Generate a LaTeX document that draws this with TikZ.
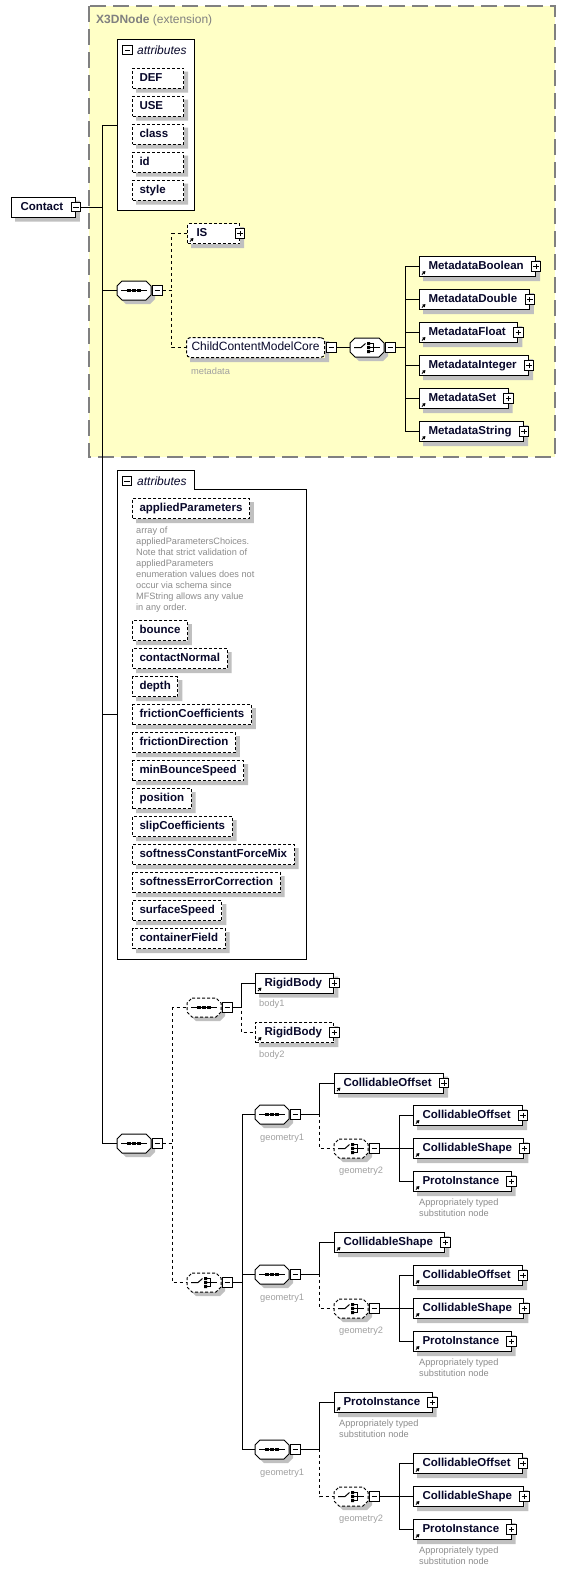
\documentclass[tikz,border=0pt]{standalone}
\usepackage{fontspec}
\setmainfont{Liberation Sans}
\usetikzlibrary{positioning,arrows.meta,calc}
\definecolor{ext100} {HTML}{FFFFC6}
\definecolor{ink900} {HTML}{08082A}
\definecolor{grey600}{HTML}{808080}
\definecolor{grey500}{HTML}{8C8C8C}
\definecolor{grey400}{HTML}{A0A0A0}
\definecolor{grey250}{HTML}{C0C0C0}
% octagon of a compositor, with its shadow
\newcommand\compshape[2]{%
  \fill[grey250] ($(#1.north east)+(4,9)$) -- ($(#1.south east)+(4,-1)$)
    -- ($(#1.south east)+(-1,4)$) -- ($(#1.south west)+(9,4)$)
    -- ($(#1.south west)+(5,0)$) -- ($(#1.south east)+(-5,0)$)
    -- ($(#1.south east)+(0,-5)$) -- ($(#1.north east)+(0,5)$) -- cycle;
  \draw[line width=1pt, fill=white, #2] ($(#1.north west)+(5,0)$)
    -- ($(#1.north east)+(-5,0)$) -- ($(#1.north east)+(0,5)$)
    -- ($(#1.south east)+(0,-5)$) -- ($(#1.south east)+(-5,0)$)
    -- ($(#1.south west)+(5,0)$) -- ($(#1.south west)+(0,-5)$)
    -- ($(#1.north west)+(0,5)$) -- cycle;}
% shadow strips on the right and below a box
\newcommand\boxshade[1]{%
  \fill[grey250] ($(#1.north east)+(0,4)$) rectangle ($(#1.south east)+(4,4)$)
    ($(#1.south west)+(4,0)$) rectangle ($(#1.south east)+(4,4)$);}
\newcommand\seqmark[1]{%
  \draw[line width=1pt] ($(#1.west)+(4,0)$) -- ($(#1.east)+(-4,0)$);
  \foreach \d in {-5,0,5}
    \fill ($(#1.center)+(\d,0)$) +(-1.7,-1.7) rectangle +(1.7,1.7);}
\newcommand\choicemark[1]{%
  \begin{scope}[shift={(#1.center)}, line width=1pt]
    \draw (-13,0) -- (-6,0) -- (-1.5,-4);
    \fill (0,-5.5) rectangle (3,-2.5) (0,-1.5) rectangle (3,1.5)
          (0,2.5) rectangle (3,5.5);
    \draw (3,-4) -- (6,-4) -- (6,4) -- (3,4) (3,0) -- (13,0);
  \end{scope}}
\tikzset{
  opt/.style     ={dash pattern=on 3pt off 2pt},
  boxbase/.style ={draw, line width=1pt, fill=white, anchor=west,
                   minimum height=20pt, inner ysep=0pt, text=ink900,
                   text height=8.5pt, text depth=2.5pt,
                   font=\fontsize{11.5}{13}\selectfont\bfseries,
                   append after command={\pgfextra{\boxshade{\tikzlastnode}}}},
  elem/.style    ={boxbase, inner xsep=9pt,
                   execute at end node={\hspace*{3pt}}},
  ref/.style     ={elem, path picture={\draw[solid, line width=1pt,
                   -{Triangle[length=3pt,width=3.5pt]}]
                   ($(path picture bounding box.south west)+(2.5,-2)$)
                   -- ++(3.5,-3.5);}},
  att/.style     ={boxbase, opt, inner xsep=7pt},
  grpref/.style  ={boxbase, opt, rounded corners=4pt, inner xsep=5pt,
                   font=\fontsize{12}{14}\selectfont},
  comp/.style    ={anchor=west, minimum width=34pt, minimum height=19pt,
                   inner sep=0pt, outer sep=0pt},
  seq/.style     ={comp, append after command={\pgfextra{%
                   \compshape{\tikzlastnode}{#1}\seqmark{\tikzlastnode}}}},
  seq/.default   =solid,
  choice/.style  ={comp, append after command={\pgfextra{%
                   \compshape{\tikzlastnode}{#1}\choicemark{\tikzlastnode}}}},
  choice/.default=solid,
  minusbox/.style={draw, line width=1pt, fill=white, minimum size=9.5pt,
                   inner sep=0pt, path picture={\draw[line width=1pt]
                   ([xshift=2pt]path picture bounding box.west) --
                   ([xshift=-2pt]path picture bounding box.east);}},
  plusbox/.style ={minusbox, path picture={\draw[line width=1pt]
                   ([xshift=2pt]path picture bounding box.west) --
                   ([xshift=-2pt]path picture bounding box.east)
                   ([yshift=2pt]path picture bounding box.south) --
                   ([yshift=-2pt]path picture bounding box.north);}},
  hdr/.style     ={anchor=west, inner sep=0pt, text=ink900,
                   font=\fontsize{12}{14}\selectfont\itshape},
  tag/.style     ={anchor=west, inner sep=0pt, text=grey400,
                   font=\fontsize{9.3}{11}\selectfont},
  note/.style    ={anchor=north west, inner sep=0pt, text=grey500,
                   align=left, font=\fontsize{9.2}{11}\selectfont},
  ln/.style      ={line width=1pt},
  lnd/.style     ={ln, dash pattern=on 3pt off 3pt},
  grp/.style     ={draw, line width=1pt, fill=white},
  extbox/.style  ={draw=grey600, line width=1.3pt, fill=ext100,
                   dash pattern=on 16pt off 7pt}
}
\begin{document}
\begin{tikzpicture}[x=1pt, y=-1pt]
\useasboundingbox (0,0) rectangle (566,1575);
\coordinate (tk) at (102,0);

% X3DNode extension
\draw[extbox] (89,6) rectangle (555,457);
\node[anchor=west, inner sep=0pt, text=grey600,
      font=\fontsize{12}{14}\selectfont] (ext) at (96,20)
  {\textbf{X3DNode} (extension)};

\node[grp, anchor=north west, minimum width=77pt, minimum height=171pt]
  (attA) at (117,39) {};
\node[minusbox] (attAm) at (127.5,50) {};
\node[hdr] (attAh) at (137,50) {attributes};
\foreach \t [count=\i from 0] in {DEF,USE,class,id,style}
  \node[att, text width=37pt] (a\i) at (132,78+28*\i) {\t};

\node[elem] (contact) at (11,207) {Contact};
\node[minusbox] (contactx) at (contact.east) {};

\node[seq] (sq1) at (117,290.5) {};
\node[minusbox, right=1pt of sq1] (sq1x) {};
\node[ref, opt, text width=34pt] (is) at (187,233.5) {IS};
\node[plusbox] (isx) at (is.east) {};
\node[grpref] (ccmc) at (186,347.5) {ChildContentModelCore};
\node[minusbox, right=1pt of ccmc] (ccmcx) {};
\node[tag] (ccmct) at (191,371) {metadata};
\node[choice] (ch1) at (350,347.5) {};
\node[minusbox, right=1pt of ch1] (ch1x) {};
\foreach \t [count=\i from 0] in {MetadataBoolean,MetadataDouble,
    MetadataFloat,MetadataInteger,MetadataSet,MetadataString} {
  \node[ref] (md\i) at (419,266.5+33*\i) {\t};
  \node[plusbox] (mdx\i) at (md\i.east) {};
  \draw[ln] (ch1x.east) -- ++(10,0) |- (md\i.west);
}

% attributes of Contact
\draw[grp] (117,470) -- (194,470) -- (194,489) -- (306,489) -- (306,959)
  -- (117,959) -- cycle;
\coordinate (attB) at (117,714.5);
\node[minusbox] (attBm) at (127,481) {};
\node[hdr] (attBh) at (137,481) {attributes};
\node[att] (ap) at (132,508.5) {appliedParameters};
\node[note] (apn) at (136,526.5) {array of\\appliedParametersChoices.\\
  Note that strict validation of\\appliedParameters\\
  enumeration values does not\\occur via schema since\\
  MFString allows any value\\in any order.};
\foreach \t [count=\i from 0] in {bounce,contactNormal,depth,
    frictionCoefficients,frictionDirection,minBounceSpeed,position,
    slipCoefficients,softnessConstantForceMix,softnessErrorCorrection,
    surfaceSpeed,containerField}
  \node[att] (b\i) at (132,630.5+28*\i) {\t};

% bodies and geometries
\node[seq] (sq2) at (117,1143.5) {};
\node[minusbox, right=1pt of sq2] (sq2x) {};
\node[seq=opt] (sq3) at (187,1007.5) {};
\node[minusbox, right=1pt of sq3] (sq3x) {};
\node[ref] (rb1) at (255,983) {RigidBody};
\node[plusbox] (rb1x) at (rb1.east) {};
\node[tag] (rb1t) at (259,1004) {body1};
\node[ref, opt] (rb2) at (255,1032.5) {RigidBody};
\node[plusbox] (rb2x) at (rb2.east) {};
\node[tag] (rb2t) at (259,1055) {body2};
\node[choice=opt] (ch2) at (187,1282.5) {};
\node[minusbox, right=1pt of ch2] (ch2x) {};

\foreach \g/\ys/\yf/\yc/\first in
    {1/1114.5/1083/1148.5/CollidableOffset,
     2/1274.5/1242.5/1308.5/CollidableShape,
     3/1449.5/1402.5/1496.5/ProtoInstance} {
  \node[seq] (gs\g) at (255,\ys) {};
  \node[minusbox, right=1pt of gs\g] (gsx\g) {};
  \node[tag] (gst\g) at (260,\ys+23.5) {geometry1};
  \node[ref] (gf\g) at (334,\yf) {\first};
  \node[plusbox] (gfx\g) at (gf\g.east) {};
  \node[choice=opt] (gc\g) at (334,\yc) {};
  \node[minusbox, right=1pt of gc\g] (gcx\g) {};
  \node[tag] (gct\g) at (339,\yc+22.5) {geometry2};
  \foreach \t [count=\i] in {CollidableOffset,CollidableShape,ProtoInstance} {
    \node[ref] (gk\g\i) at (413,\yc-66+33*\i) {\t};
    \node[plusbox] (gkx\g\i) at (gk\g\i.east) {};
    \draw[ln] (gcx\g.east) -- ++(20,0) |- (gk\g\i.west);
  }
  \node[note] (gkn\g) at (419,\yc+50.5)
    {Appropriately typed\\substitution node};
  \draw[ln] (ch2x.east) -- ++(10,0) |- (gs\g.west);
  \draw[ln] (gsx\g.east) -- ++(19,0) |- (gf\g.west);
  \draw[lnd] (gsx\g.east) -- ++(19,0) |- (gc\g.west);
}
\node[note] (gfn3) at (339,1420) {Appropriately typed\\substitution node};

\draw[ln] (attA.west) -- (attA.west -| tk) -- (sq2.west -| tk) -- (sq2.west);
\draw[ln] (contactx.east) -- (contactx.east -| tk);
\draw[ln] (sq1.west) -- (sq1.west -| tk);
\draw[ln] (attB) -- (attB -| tk);
\draw[lnd] (sq1x.east) -- ++(9,0) |- (is.west);
\draw[lnd] (sq1x.east) -- ++(9,0) |- (ccmc.west);
\draw[ln] (ccmcx.east) -- (ch1.west);
\draw[lnd] (sq2x.east) -- ++(10,0) |- (sq3.west);
\draw[lnd] (sq2x.east) -- ++(10,0) |- (ch2.west);
\draw[ln] (sq3x.east) -- ++(9,0) |- (rb1.west);
\draw[lnd] (sq3x.east) -- ++(9,0) |- (rb2.west);
\end{tikzpicture}
\end{document}
